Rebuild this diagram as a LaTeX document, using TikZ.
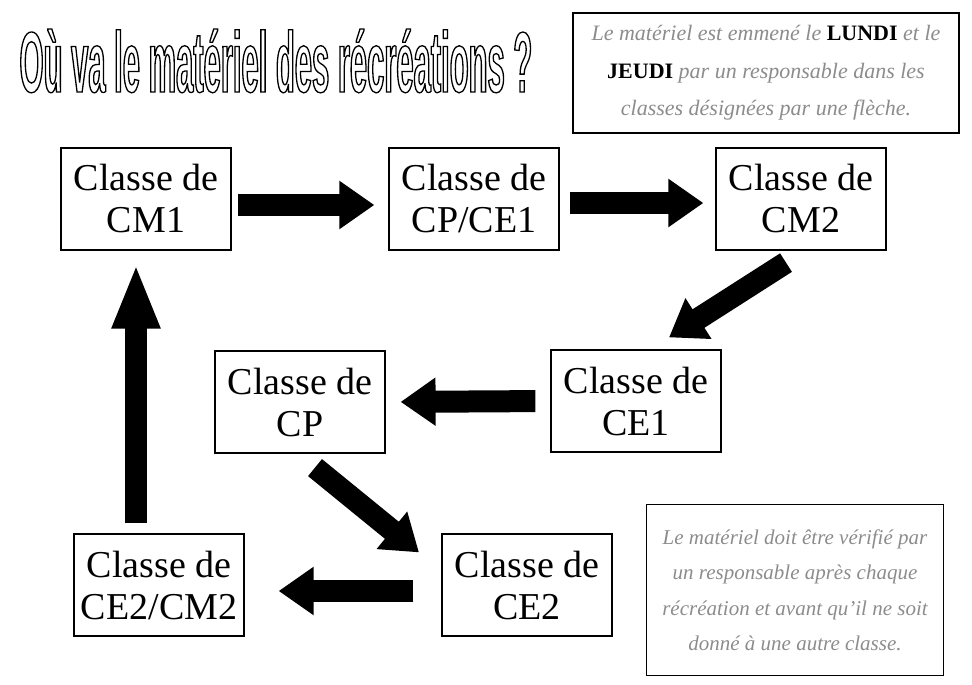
\documentclass[tikz,border=0pt]{standalone}
\usepackage{fontspec}
\setmainfont{Liberation Serif}
\newfontfamily\titlefont[FakeStretch=0.36]{Liberation Sans}
\newcommand\contourtexte[1]{\special{pdf:literal direct 1 Tr 1.3 w}#1\special{pdf:literal direct 0 Tr}}
\usetikzlibrary{arrows.meta}
\begin{document}
    \begin{tikzpicture}[x=1pt,y=-1pt,
        classe/.style={draw,line width=1.2pt,align=center,minimum width=170pt,minimum height=102pt,inner xsep=4pt,font=\fontsize{38}{42}\selectfont},
        consigne/.style={draw,line width=1.5pt,align=center,text=black!45},
        blockarrow/.style={line width=22pt,-{Triangle[width=46pt,length=35pt]}},
        longarrow/.style={line width=22pt,-{Triangle[width=44pt,length=65pt]}}]
        \useasboundingbox (0,0) rectangle (972,685);
        \node[anchor=base west] (titre) at (16,92) {\titlefont\bfseries\fontsize{86}{86}\selectfont\contourtexte{Où va le matériel des récréations ?}};
        \node[consigne,minimum width=386pt,minimum height=120pt,font=\itshape\fontsize{22}{37.5}\selectfont] (consigneA) at (766,73) {Le matériel est emmené le \textcolor{black}{\upshape\bfseries LUNDI} et le\\\textcolor{black}{\upshape\bfseries JEUDI} par un responsable dans les\\classes désignées par une flèche.};
        \node[consigne,minimum width=297pt,minimum height=171pt,font=\itshape\fontsize{21}{35.5}\selectfont] (consigneB) at (795,590) {Le matériel doit être vérifié par\\un responsable après chaque\\récréation et avant qu'il ne soit\\donné à une autre classe.};
        \node[classe] (cmun) at (146,199) {Classe de\\CM1};
        \node[classe] (cpce) at (474,199) {Classe de\\CP/CE1};
        \node[classe] (cmdeux) at (801,199) {Classe de\\CM2};
        \node[classe] (cp) at (300,402) {Classe de\\CP};
        \node[classe] (ceun) at (636,401) {Classe de\\CE1};
        \node[classe] (cecm) at (159,585) {Classe de\\CE2/CM2};
        \node[classe] (cedeux) at (527,585) {Classe de\\CE2};
        \draw[blockarrow,shorten <=6pt,shorten >=14pt] ([yshift=-6pt]cmun.east) -- ([yshift=-6pt]cpce.west);
        \draw[blockarrow,shorten <=10pt,shorten >=12pt] ([yshift=-4pt]cpce.east) -- ([yshift=-4pt]cmdeux.west);
        \draw[blockarrow] ([shift={(-15,12)}]cmdeux.south) -- ([shift={(33,-12)}]ceun.north);
        \draw[blockarrow,shorten <=15pt,shorten >=15pt] (ceun.west) -- (cp.east);
        \draw[blockarrow] ([shift={(15,14)}]cp.south) -- ([shift={(-108,19)}]cedeux.north);
        \draw[blockarrow,shorten <=28pt,shorten >=34pt] ([yshift=-6pt]cedeux.west) -- ([yshift=-6pt]cecm.east);
        \draw[longarrow,shorten <=10pt,shorten >=13pt] ([xshift=-23pt]cecm.north) -- ([xshift=-10pt]cmun.south);
    \end{tikzpicture}
\end{document}
